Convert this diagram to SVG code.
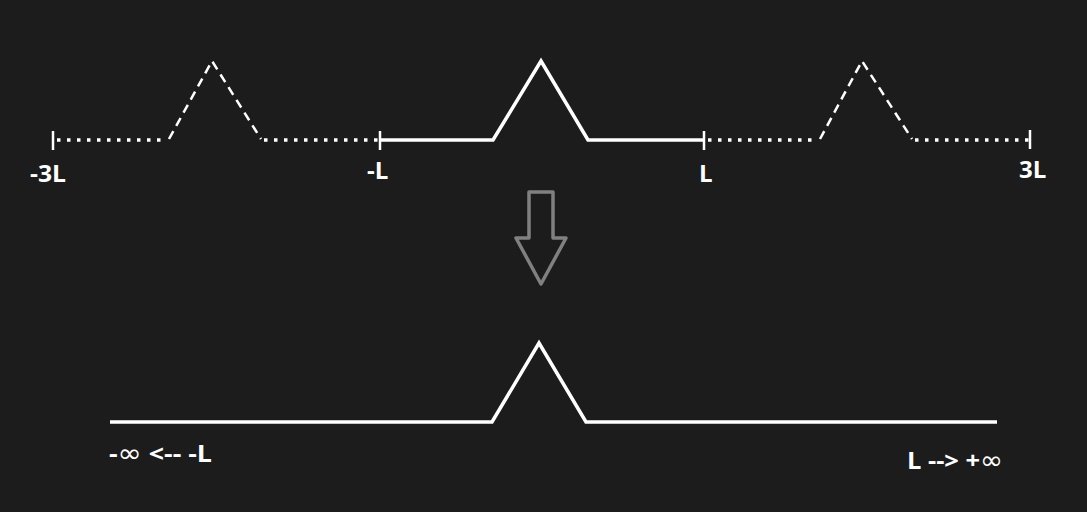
<svg xmlns="http://www.w3.org/2000/svg" width="1087" height="512" viewBox="0 0 1087 512">
<style>
.solid{fill:none;stroke:#fff;stroke-width:3.5;stroke-linejoin:miter}
.dots{fill:none;stroke:#fff;stroke-width:3.5;stroke-dasharray:3.5 6.5}
.dash{fill:none;stroke:#fff;stroke-width:2.5;stroke-dasharray:9 6}
.tick{stroke:#fff;stroke-width:2.5}
.lbl{fill:#fff;font-family:"Open Sans","Noto Sans",sans-serif;font-weight:bold;font-size:24px}
.inf{font-family:"DejaVu Sans",sans-serif;font-weight:normal;font-size:26px}
</style>
<rect width="1087" height="512" fill="#1c1c1c"/>
<g id="connectors">
<g id="top-left-periodic">
<line class="dots" x1="57" y1="140" x2="167" y2="140"/>
<polyline class="dash" points="169,139 212,61 261,139"/>
<line class="dots" x1="264" y1="140" x2="378" y2="140"/>
</g>
<g id="top-center">
<polyline class="solid" points="380,140 493,140 541,61 588,140 704,140"/>
</g>
<g id="top-right-periodic">
<line class="dots" x1="708" y1="140" x2="818" y2="140"/>
<polyline class="dash" points="820,139 862,61 912,139"/>
<line class="dots" x1="915" y1="140" x2="1029" y2="140"/>
</g>
<g id="ticks">
<line class="tick" x1="53" y1="131" x2="53" y2="150"/>
<line class="tick" x1="380" y1="131" x2="380" y2="150"/>
<line class="tick" x1="704" y1="131" x2="704" y2="150"/>
<line class="tick" x1="1030" y1="130" x2="1030" y2="149"/>
</g>
<g id="bottom">
<polyline class="solid" points="110,422 492,422 539,343 586,422 997,422"/>
</g>
</g>
<g id="arrow">
<polygon points="529,192 553,192 553,238 566,238 541,284 516,238 529,238" fill="none" stroke="#808080" stroke-width="3.5" stroke-linejoin="round"/>
</g>
<g id="labels">
<text class="lbl" x="30" y="182" textLength="36" lengthAdjust="spacingAndGlyphs">-3L</text>
<text class="lbl" x="367" y="179">-L</text>
<text class="lbl" x="699" y="182">L</text>
<text class="lbl" x="1019" y="178">3L</text>
<text class="lbl" x="109" y="462" textLength="103" lengthAdjust="spacingAndGlyphs">-<tspan class="inf">∞</tspan> &lt;-- -L</text>
<text class="lbl" x="907" y="469" textLength="96" lengthAdjust="spacingAndGlyphs">L --&gt; +<tspan class="inf">∞</tspan></text>
</g>
</svg>
